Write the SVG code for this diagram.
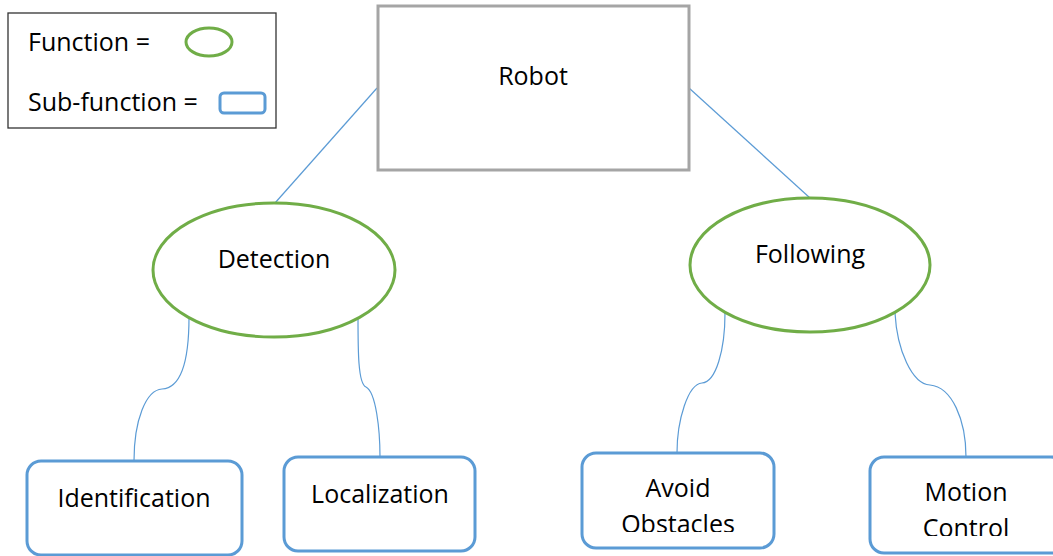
<svg xmlns="http://www.w3.org/2000/svg" width="1053" height="556" viewBox="0 0 1053 556">
  <style>
    .lbl { font-family: "Open Sans", "Liberation Sans", sans-serif; font-size: 25px; fill: #000; }
    .func { fill: #fff; stroke: #70ad47; stroke-width: 3; }
    .sub { fill: #fff; stroke: #5b9bd5; stroke-width: 3; }
    .wire { fill: none; stroke: #5b9bd5; stroke-width: 1.2; }
  </style>
  <defs>
    <clipPath id="clipAvoid"><rect x="582" y="453" width="192" height="79"/></clipPath>
    <clipPath id="clipMotion"><rect x="869" y="457" width="184" height="79"/></clipPath>
  </defs>
  <rect width="1053" height="556" fill="#fff"/>

  <!-- connectors -->
  <g id="connectors">
    <line class="wire" x1="377" y1="88" x2="275" y2="203"/>
    <line class="wire" x1="689" y1="88" x2="810" y2="198"/>
    <path class="wire" d="M189,317 C189,360 182,388 162,389 C146,390 134,420 134,461"/>
    <path class="wire" d="M358,317 C358,350 358,384 366,387 C376,392 380,430 380,457"/>
    <path class="wire" d="M725,313 C725,350 716,382 702,383 C688,384 677,420 677,453"/>
    <path class="wire" d="M895,313 C897,350 912,384 930,385 C952,387 966,420 966,457"/>
  </g>

  <!-- legend -->
  <g id="legend">
    <rect x="8" y="13" width="268" height="115" fill="#fff" stroke="#333" stroke-width="1.3"/>
    <text class="lbl" x="28" y="51">Function =</text>
    <ellipse class="func" cx="209" cy="42" rx="23" ry="14"/>
    <text class="lbl" x="28" y="111">Sub-function =</text>
    <rect class="sub" x="220" y="93" width="45" height="20" rx="4"/>
  </g>

  <g id="robot">
    <rect x="378" y="6" width="311" height="164" fill="#fff" stroke="#a5a5a5" stroke-width="3"/>
    <text class="lbl" x="533" y="85" text-anchor="middle">Robot</text>
  </g>

  <g id="detection">
    <ellipse class="func" cx="274" cy="270" rx="121" ry="67"/>
    <text class="lbl" x="274" y="268" text-anchor="middle">Detection</text>
  </g>

  <g id="following">
    <ellipse class="func" cx="810" cy="265" rx="120" ry="67"/>
    <text class="lbl" x="810" y="263" text-anchor="middle">Following</text>
  </g>

  <g id="identification">
    <rect class="sub" x="27" y="461" width="215" height="94" rx="14"/>
    <text class="lbl" x="134" y="507" text-anchor="middle">Identification</text>
  </g>

  <g id="localization">
    <rect class="sub" x="284" y="457" width="191" height="94" rx="14"/>
    <text class="lbl" x="380" y="503" text-anchor="middle">Localization</text>
  </g>

  <g id="avoid-obstacles">
    <rect class="sub" x="582" y="453" width="192" height="95" rx="14"/>
    <g clip-path="url(#clipAvoid)">
      <text class="lbl" x="678" y="497" text-anchor="middle">Avoid</text>
      <text class="lbl" x="678" y="533" text-anchor="middle">Obstacles</text>
    </g>
  </g>

  <g id="motion-control">
    <rect class="sub" x="870" y="457" width="195" height="96" rx="14"/>
    <g clip-path="url(#clipMotion)">
      <text class="lbl" x="966" y="501" text-anchor="middle">Motion</text>
      <text class="lbl" x="966" y="537" text-anchor="middle">Control</text>
    </g>
  </g>
</svg>
